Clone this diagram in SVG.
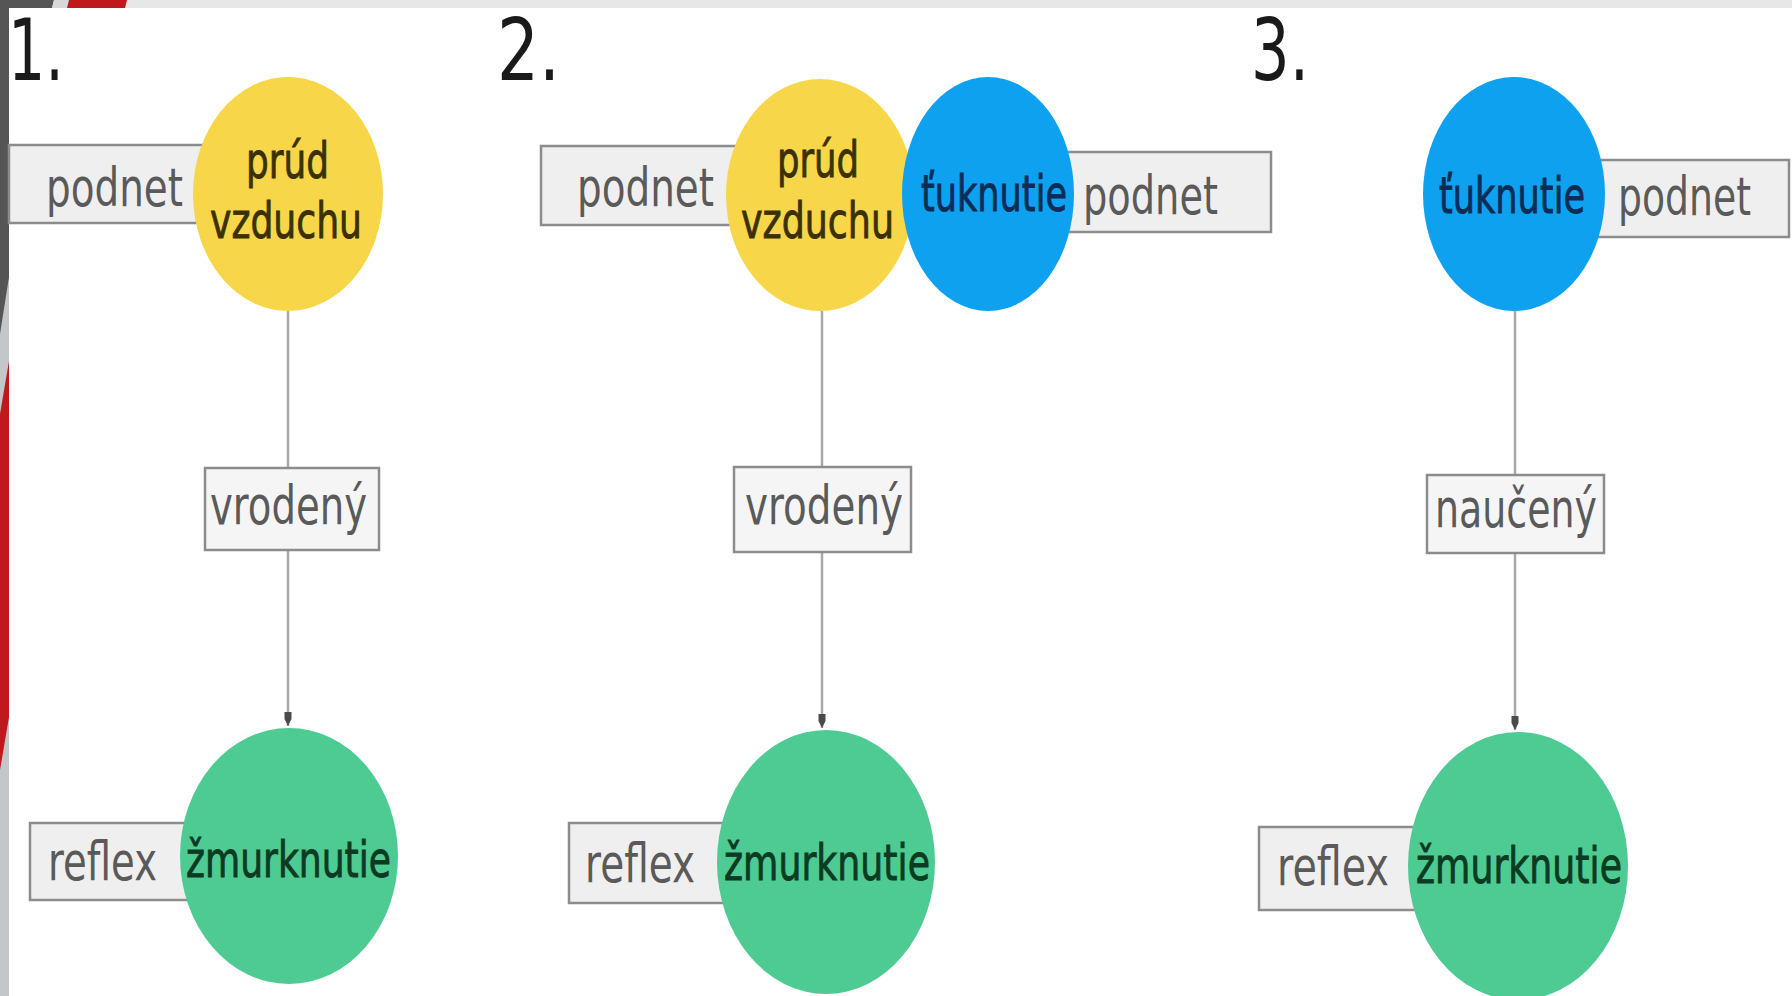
<svg xmlns="http://www.w3.org/2000/svg" width="1792" height="996" viewBox="0 0 1792 996">
<defs>
<style>
.box{fill:#efefef;stroke:#8c8c8c;stroke-width:2.5}
.bt{font-family:"DejaVu Sans",sans-serif;font-size:54px;fill:#5a5a5a}
.ct{font-family:"DejaVu Sans",sans-serif;font-size:50px;stroke-width:0.9px}
.num{font-family:"DejaVu Sans",sans-serif;font-size:86px;fill:#1a1a1a}
.yel{fill:#f7d64a}
.blu{fill:#0ea1ef}
.grn{fill:#4ecb93}
.yt{fill:#3b3100;stroke:#3b3100}
.btx{fill:#0b2d55;stroke:#0b2d55}
.gt{fill:#0c3b22;stroke:#0c3b22}
.conn{stroke:#a8a8a8;stroke-width:2.5;fill:none}
</style>
<marker id="arr" viewBox="0 0 14 10" refX="14" refY="5" markerWidth="14" markerHeight="10" markerUnits="userSpaceOnUse" orient="auto">
<path d="M0,1.5 L7,1.5 L14,5 L7,8.5 L0,8.5 Z" fill="#4a4a4a"/>
</marker>
</defs>
<rect width="1792" height="996" fill="#ffffff"/>
<g id="frame">
<rect x="0" y="0" width="1792" height="8" fill="#e6e7e7"/>
<polygon points="0,0 54,0 52,8 0,8" fill="#555555"/>
<polygon points="54,0 69,0 67,8 52,8" fill="#d6d8d9"/>
<polygon points="69,0 127,0 125,8 67,8" fill="#c0191c"/>
<rect x="0" y="0" width="9" height="996" fill="#c3c7c9"/>
<polygon points="0,0 9,0 9,277 0,334" fill="#555555"/>
<polygon points="9,361 9,717 0,770 0,414" fill="#c0191c"/>
</g>
<g id="labels">
<text class="num" x="8" y="80" textLength="56" lengthAdjust="spacingAndGlyphs">1.</text>
<text class="num" x="497" y="80" textLength="63" lengthAdjust="spacingAndGlyphs">2.</text>
<text class="num" x="1251" y="80" textLength="58" lengthAdjust="spacingAndGlyphs">3.</text>
</g>
<g id="connectors">
<line class="conn" x1="288" y1="311" x2="288" y2="726" marker-end="url(#arr)"/>
<line class="conn" x1="822" y1="311" x2="822" y2="728" marker-end="url(#arr)"/>
<line class="conn" x1="1515" y1="311" x2="1515" y2="730" marker-end="url(#arr)"/>
</g>
<g id="p1-podnet">
<rect class="box" x="9" y="145" width="200" height="78"/>
<text class="bt" x="46" y="206" textLength="137" lengthAdjust="spacingAndGlyphs">podnet</text>
</g>
<g id="p1-prud">
<ellipse class="yel" cx="288" cy="194" rx="95" ry="117"/>
<text class="ct yt" x="246" y="178" textLength="83" lengthAdjust="spacingAndGlyphs">prúd</text>
<text class="ct yt" x="210" y="238" textLength="152" lengthAdjust="spacingAndGlyphs">vzduchu</text>
</g>
<g id="p1-vrodeny">
<rect class="box" x="205" y="468" width="174" height="82" style="fill:#f5f5f5"/>
<text class="bt" x="210" y="524" textLength="157" lengthAdjust="spacingAndGlyphs">vrodený</text>
</g>
<g id="p1-reflex">
<rect class="box" x="30" y="823" width="170" height="77"/>
<text class="bt" x="48" y="880" textLength="109" lengthAdjust="spacingAndGlyphs">reflex</text>
</g>
<g id="p1-zmurknutie">
<ellipse class="grn" cx="289" cy="856" rx="109" ry="128"/>
<text class="ct gt" x="186" y="877" textLength="205" lengthAdjust="spacingAndGlyphs">žmurknutie</text>
</g>
<g id="p2-podnet-left">
<rect class="box" x="541" y="146" width="200" height="79"/>
<text class="bt" x="577" y="206" textLength="137" lengthAdjust="spacingAndGlyphs">podnet</text>
</g>
<g id="p2-podnet-right">
<rect class="box" x="1040" y="152" width="231" height="80"/>
<text class="bt" x="1083" y="214" textLength="135" lengthAdjust="spacingAndGlyphs">podnet</text>
</g>
<g id="p2-prud">
<ellipse class="yel" cx="820" cy="195" rx="94" ry="116"/>
<text class="ct yt" x="777" y="177" textLength="82" lengthAdjust="spacingAndGlyphs">prúd</text>
<text class="ct yt" x="741" y="238" textLength="153" lengthAdjust="spacingAndGlyphs">vzduchu</text>
</g>
<g id="p2-tuknutie">
<ellipse class="blu" cx="988" cy="194" rx="86" ry="117"/>
<text class="ct btx" x="921" y="211" textLength="146" lengthAdjust="spacingAndGlyphs">ťuknutie</text>
</g>
<g id="p2-vrodeny">
<rect class="box" x="734" y="467" width="177" height="85" style="fill:#f5f5f5"/>
<text class="bt" x="745" y="524" textLength="158" lengthAdjust="spacingAndGlyphs">vrodený</text>
</g>
<g id="p2-reflex">
<rect class="box" x="569" y="823" width="170" height="80"/>
<text class="bt" x="585" y="882" textLength="110" lengthAdjust="spacingAndGlyphs">reflex</text>
</g>
<g id="p2-zmurknutie">
<ellipse class="grn" cx="826" cy="862" rx="109" ry="132"/>
<text class="ct gt" x="724" y="880" textLength="206" lengthAdjust="spacingAndGlyphs">žmurknutie</text>
</g>
<g id="p3-podnet">
<rect class="box" x="1580" y="160" width="209" height="77"/>
<text class="bt" x="1618" y="215" textLength="133" lengthAdjust="spacingAndGlyphs">podnet</text>
</g>
<g id="p3-tuknutie">
<ellipse class="blu" cx="1514" cy="194" rx="91" ry="117"/>
<text class="ct btx" x="1439" y="213" textLength="146" lengthAdjust="spacingAndGlyphs">ťuknutie</text>
</g>
<g id="p3-nauceny">
<rect class="box" x="1427" y="475" width="177" height="78" style="fill:#f5f5f5"/>
<text class="bt" x="1435" y="527" textLength="162" lengthAdjust="spacingAndGlyphs">naučený</text>
</g>
<g id="p3-reflex">
<rect class="box" x="1259" y="827" width="170" height="83"/>
<text class="bt" x="1277" y="885" textLength="112" lengthAdjust="spacingAndGlyphs">reflex</text>
</g>
<g id="p3-zmurknutie">
<ellipse class="grn" cx="1518" cy="866" rx="110" ry="134"/>
<text class="ct gt" x="1416" y="883" textLength="206" lengthAdjust="spacingAndGlyphs">žmurknutie</text>
</g>
</svg>
